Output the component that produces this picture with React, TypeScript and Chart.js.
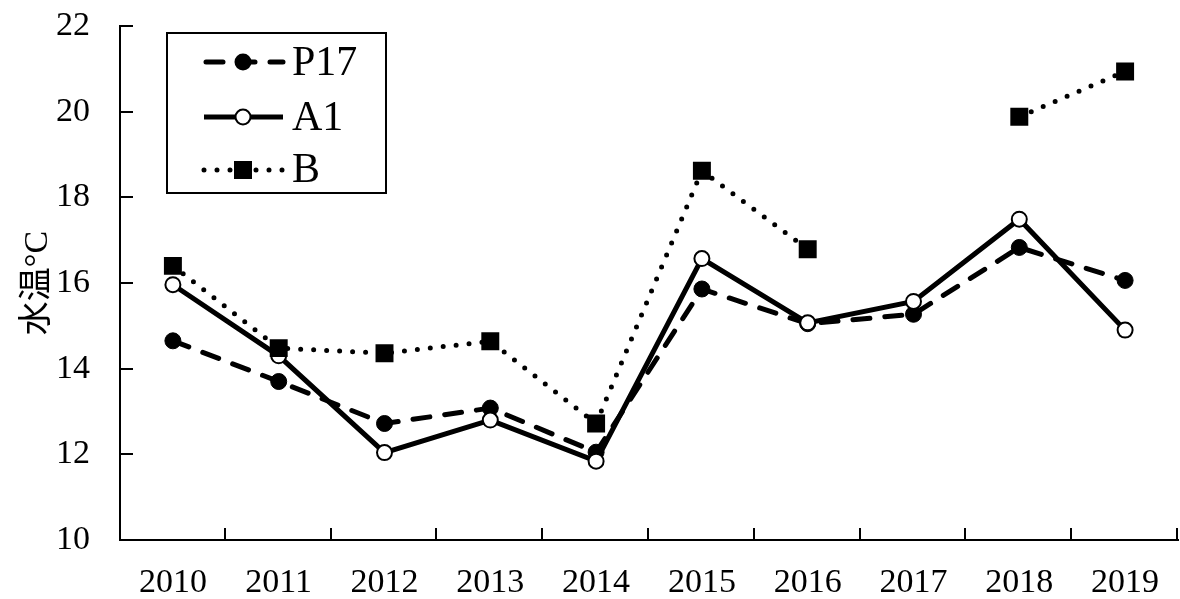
import React, { useEffect, useRef } from "react";
import { Chart, registerables } from "chart.js";

Chart.register(...registerables);

const years = ["2010", "2011", "2012", "2013", "2014", "2015", "2016", "2017", "2018", "2019"];
const p17 = [14.65, 13.7, 12.72, 13.08, 12.05, 15.86, 15.05, 15.27, 16.83, 16.06];
const a1 = [15.96, 14.3, 12.04, 12.8, 11.84, 16.57, 15.07, 15.57, 17.49, 14.9];
const bVals = [16.4, 14.48, 14.36, 14.64, 12.72, 18.62, 16.79, null, 19.88, 20.94];
const yTicks = [10, 12, 14, 16, 18, 20, 22];
const seriesNames = ["P17", "A1", "B"];
const yTitle = "水温°C";

const SERIF = '"Liberation Serif", "Times New Roman", "Noto Sans CJK JP", serif';

const decorPlugin = {
  id: "decor",
  afterDraw(chart: any) {
    const ctx = chart.ctx;
    const area = chart.chartArea;
    const ys = chart.scales.y;
    ctx.save();
    // inward ticks
    ctx.strokeStyle = "#000";
    ctx.lineWidth = 2;
    ctx.setLineDash([]);
    const n = years.length;
    const w = (area.right - area.left) / n;
    for (let i = 1; i <= n; i++) {
      const x = Math.round(area.left + i * w) - 1;
      ctx.beginPath();
      ctx.moveTo(x, area.bottom);
      ctx.lineTo(x, area.bottom - 12);
      ctx.stroke();
    }
    yTicks.forEach((v) => {
      if (v === yTicks[0]) return;
      const y = Math.round(ys.getPixelForValue(v));
      ctx.beginPath();
      ctx.moveTo(area.left, y);
      ctx.lineTo(area.left + 13, y);
      ctx.stroke();
    });
    // y title
    ctx.save();
    ctx.translate(38, (area.top + area.bottom) / 2);
    ctx.rotate(-Math.PI / 2);
    ctx.font = `34px ${SERIF}`;
    ctx.fillStyle = "#000";
    ctx.textAlign = "center";
    ctx.textBaseline = "middle";
    ctx.fillText(yTitle, 0, 0);
    ctx.restore();

    // legend
    const bx = 167, by = 33, bw = 219, bh = 160;
    ctx.fillStyle = "#fff";
    ctx.fillRect(bx, by, bw, bh);
    ctx.strokeStyle = "#000";
    ctx.lineWidth = 2;
    ctx.strokeRect(bx, by, bw, bh);
    const rows = [62, 117, 170];
    const baselines = [75, 130, 182];
    const x1 = 204, x2 = 283, mx = 243;
    rows.forEach((ry, i) => {
      ctx.save();
      ctx.strokeStyle = "#000";
      ctx.lineWidth = 5;
      ctx.lineCap = i === 1 ? "butt" : "round";
      if (i === 0) ctx.setLineDash([17, 15]);
      else if (i === 2) ctx.setLineDash([0, 13]);
      else ctx.setLineDash([]);
      ctx.beginPath();
      ctx.moveTo(i === 0 ? x1 + 2 : x1, ry);
      ctx.lineTo(x2, ry);
      ctx.stroke();
      ctx.setLineDash([]);
      if (i === 0) {
        ctx.fillStyle = "#000";
        ctx.beginPath();
        ctx.arc(mx, ry, 8.5, 0, Math.PI * 2);
        ctx.fill();
      } else if (i === 1) {
        ctx.fillStyle = "#fff";
        ctx.lineWidth = 2;
        ctx.beginPath();
        ctx.arc(mx, ry, 7.5, 0, Math.PI * 2);
        ctx.fill();
        ctx.stroke();
      } else {
        ctx.fillStyle = "#000";
        ctx.fillRect(mx - 9, ry - 9, 18, 18);
      }
      ctx.fillStyle = "#000";
      ctx.font = `42px ${SERIF}`;
      ctx.textAlign = "left";
      ctx.textBaseline = "alphabetic";
      ctx.fillText(seriesNames[i], 292, baselines[i]);
      ctx.restore();
    });
    ctx.restore();
  },
};

export default function App() {
  const ref = useRef<HTMLCanvasElement | null>(null);
  useEffect(() => {
    if (!ref.current) return;
    const chart = new Chart(ref.current, {
      type: "line",
      data: {
        labels: years,
        datasets: [
          {
            label: seriesNames[0],
            data: p17,
            borderColor: "#000",
            borderWidth: 5,
            borderDash: [17, 15],
            borderCapStyle: "round",
            pointStyle: "circle",
            pointRadius: 8,
            pointBorderWidth: 1,
            pointBackgroundColor: "#000",
            pointBorderColor: "#000",
            tension: 0,
            order: 3,
          },
          {
            label: seriesNames[1],
            data: a1,
            borderColor: "#000",
            borderWidth: 5,
            pointStyle: "circle",
            pointRadius: 7.5,
            pointBorderWidth: 2,
            pointBackgroundColor: "#fff",
            pointBorderColor: "#000",
            tension: 0,
            order: 2,
          },
          {
            label: seriesNames[2],
            data: bVals,
            borderColor: "#000",
            borderWidth: 5,
            borderDash: [0, 13],
            borderCapStyle: "round",
            pointStyle: "rect",
            pointRadius: 12.7,
            pointBorderWidth: 0,
            pointBackgroundColor: "#000",
            pointBorderColor: "#000",
            spanGaps: false,
            tension: 0,
            order: 1,
          },
        ],
      },
      options: {
        animation: false,
        responsive: false,
        layout: { autoPadding: false, padding: { left: 0, top: 26, right: 2, bottom: 0 } },
        plugins: { legend: { display: false }, tooltip: { enabled: false } },
        scales: {
          x: {
            type: "category",
            offset: true,
            grid: { display: false, offset: true, drawTicks: false },
            border: { display: true, color: "#000", width: 2 },
            ticks: {
              color: "#000",
              font: { family: SERIF, size: 34 },
              padding: 23,
              maxRotation: 0,
              autoSkip: false,
            },
            afterFit(scale: any) {
              scale.height = 59;
              scale.paddingLeft = 0;
              scale.paddingRight = 0;
            },
          },
          y: {
            min: 10,
            max: 22,
            grid: { display: false, drawTicks: false },
            border: { display: true, color: "#000", width: 2 },
            afterBuildTicks(scale: any) {
              scale.ticks = yTicks.map((v) => ({ value: v }));
            },
            ticks: {
              color: "#000",
              font: { family: SERIF, size: 34 },
              padding: 30,
            },
            afterFit(scale: any) {
              scale.width = 120;
              scale.paddingTop = 0;
              scale.paddingBottom = 0;
            },
          },
        },
      },
      plugins: [decorPlugin],
    } as any);
    return () => chart.destroy();
  }, []);
  return (
    <div style={{ position: "fixed", left: 0, top: 0, width: 1180, height: 599, background: "#fff" }}>
      <canvas ref={ref} width={1180} height={599} style={{ display: "block" }} />
    </div>
  );
}
